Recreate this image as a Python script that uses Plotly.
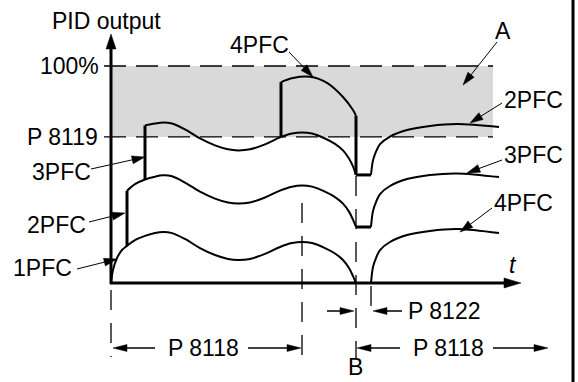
import plotly.graph_objects as go

# PID output (%) over time (t in drawing units), for 1..4 running pumps
t_1pfc = [0, 2, 6, 11, 16, 24, 34, 44, 52, 61, 74, 89, 104, 117, 127, 139, 154, 169, 181, 191, 201, 214, 224, 232, 238, 242, 245]
out_1pfc = [0, 6.0, 11.5, 15.2, 17.1, 19.8, 21.7, 23.0, 23.5, 23.0, 20.3, 16.1, 12.9, 11.1, 10.6, 11.1, 13.4, 16.6, 18.4, 18.9, 18.4, 16.1, 13.6, 10.6, 6.9, 3.2, 0]

t_2pfc = [16, 24, 34, 44, 52, 61, 74, 89, 104, 117, 127, 139, 154, 169, 181, 191, 201, 214, 224, 232, 238, 242, 245]
out_2pfc = [42.5, 45.6, 47.7, 49.0, 49.6, 49.2, 46.3, 42.1, 38.9, 37.1, 36.6, 37.1, 39.4, 42.6, 44.4, 44.9, 44.4, 42.1, 39.6, 36.6, 32.9, 29.2, 25.8]

t_3pfc = [34, 44, 52, 61, 74, 89, 104, 117, 127, 139, 154, 169, 181, 191, 201, 214, 224, 232, 238, 242, 245]
out_3pfc = [72.6, 73.5, 74.0, 73.5, 70.8, 66.6, 63.4, 61.6, 61.1, 61.6, 63.9, 67.1, 68.9, 69.4, 68.9, 66.6, 64.1, 61.1, 57.4, 53.7, 49.8]

t_4pfc = [170, 182, 199, 216, 232, 242, 245]
out_4pfc = [92.6, 94.5, 95.0, 92.2, 85.7, 79.7, 77.0]

# after the stop (B) and the restart delay P 8122
t_after = [260, 262, 265, 269, 279, 296, 319, 346, 388]
out_after_1 = [0, 7.4, 11.5, 15.2, 18.9, 22.1, 24.0, 24.9, 23.0]
out_after_2 = [25.8, 33.2, 37.3, 41.0, 44.7, 47.9, 49.8, 50.5, 48.8]
out_after_3 = [49.8, 56.5, 60.5, 64.0, 67.5, 70.5, 72.4, 73.3, 71.9]

# pump switch-on steps: time, output before, output after
step_t = [16, 34, 170]
step_from = [17.1, 47.7, 67.3]
step_to = [42.5, 72.6, 92.6]

# stop of pump 4 at B, then hold for P 8122
stop_t = [245, 260]
stop_levels = [49.8, 25.8]
stop_from = 77.0

full = 100
p8119 = 67.3
p8118_end = 191

# drawing geometry (pixels)
W, H = 578, 382
X0, Y0 = 111, 283
KY = 2.17


def px(x):
    return x - X0


def py(y):
    return (Y0 - y) / KY


fig = go.Figure()

curves = [(t_1pfc, out_1pfc), (t_2pfc, out_2pfc), (t_3pfc, out_3pfc), (t_4pfc, out_4pfc),
          (t_after, out_after_1), (t_after, out_after_2), (t_after, out_after_3)]
for t, v in curves:
    fig.add_trace(go.Scatter(x=t, y=v, mode='lines', line=dict(color='black', width=2, shape='spline', smoothing=1),
                             hoverinfo='skip', showlegend=False))

for t, a, b in zip(step_t, step_from, step_to):
    fig.add_trace(go.Scatter(x=[t, t], y=[a, b], mode='lines', line=dict(color='black', width=3),
                             hoverinfo='skip', showlegend=False))

fig.add_trace(go.Scatter(x=[stop_t[0], stop_t[0]], y=[stop_from, stop_levels[0]], mode='lines',
                         line=dict(color='black', width=3), hoverinfo='skip', showlegend=False))
for lvl in stop_levels:
    fig.add_trace(go.Scatter(x=stop_t, y=[lvl, lvl], mode='lines', line=dict(color='black', width=3),
                             hoverinfo='skip', showlegend=False))

shapes = []
annotations = []
FONT = 'Liberation Sans, Arial, Helvetica, sans-serif'


def arrow(x0, y0, x1, y1, w=1.0, hl=13, hw=4):
    # tail (x0, y0) -> tip (x1, y1), pixel coords
    dx, dy = x1 - x0, y1 - y0
    n = (dx * dx + dy * dy) ** 0.5
    ux, uy = dx / n, dy / n
    bx, by = x1 - ux * hl, y1 - uy * hl
    shapes.append(dict(type='line', x0=px(x0), y0=py(y0), x1=px(bx + ux * 2), y1=py(by + uy * 2),
                       line=dict(color='black', width=w)))
    pts = [(x1, y1), (bx - uy * hw, by + ux * hw), (bx + uy * hw, by - ux * hw)]
    path = 'M ' + ' L '.join(f'{px(a):.2f},{py(b):.2f}' for a, b in pts) + ' Z'
    shapes.append(dict(type='path', path=path, fillcolor='black', line=dict(color='black', width=0.5)))


def vdash(x, ytop, ybot):
    shapes.append(dict(type='line', x0=px(x), x1=px(x), y0=py(ytop), y1=py(ybot),
                       line=dict(color='black', width=1.3, dash='20px,13px')))


def label(x, y, s, size=23, anchor='center', italic=False):
    annotations.append(dict(x=px(x), y=py(y), xref='x', yref='y', text=s, showarrow=False,
                            xanchor=anchor, yanchor='middle',
                            font=dict(family=FONT, size=size, color='black',
                                      style='italic' if italic else 'normal')))


# grey band between P 8119 and 100 %
shapes.append(dict(type='rect', x0=0, x1=px(493), y0=p8119, y1=full, fillcolor='#d9d9d9',
                   line=dict(width=0), layer='below'))
for lvl in [full, p8119]:
    shapes.append(dict(type='line', x0=px(104), x1=px(493), y0=lvl, y1=lvl,
                       line=dict(color='black', width=1.3, dash='22px,10px')))

# axes
arrow(111, 284, 111, 34, w=3, hl=15, hw=5)
arrow(110, 283, 521, 283, w=3, hl=17, hw=5)

# time marks
vdash(111, 290, 357)
vdash(X0 + p8118_end, 203, 355)
vdash(X0 + stop_t[0], 176, 358)
vdash(X0 + stop_t[1], 286, 318)

# dimension arrows
arrow(155, 348, 113, 348, w=1.5, hl=14, hw=3.5)
arrow(248, 348, 301, 348, w=1.5, hl=14, hw=3.5)
arrow(400, 348, 357, 348, w=1.5, hl=14, hw=3.5)
arrow(493, 348, 548, 348, w=1.5, hl=14, hw=3.5)
arrow(327, 311, 354, 311, w=1.5, hl=14, hw=3.5)
arrow(402, 311, 373, 311, w=1.5, hl=14, hw=3.5)

# label arrows
arrow(91, 169, 145, 157)
arrow(89, 222, 125, 213)
arrow(77, 269, 117, 259)
arrow(289, 52, 313, 77)
arrow(497, 42, 463, 85)
arrow(502, 103, 470, 123)
arrow(502, 160, 467, 173)
arrow(492, 208, 460, 232)

# right frame
shapes.append(dict(type='line', x0=px(573), x1=px(573), y0=py(0), y1=py(H),
                   line=dict(color='black', width=3)))

label(106, 21, 'PID output')
label(101, 66, '100%', anchor='right')
label(100, 137, 'P 8119', anchor='right')
label(61, 172, '3PFC')
label(56, 225, '2PFC')
label(42, 268, '1PFC')
label(259, 45, '4PFC')
label(503, 31, 'A')
label(533, 100, '2PFC')
label(533, 155, '3PFC')
label(523, 203, '4PFC')
label(513, 265, 't', italic=True)
label(444, 311, 'P 8122')
label(203, 348, 'P 8118')
label(448, 348, 'P 8118')
label(355, 367, 'B')

fig.update_layout(
    width=W, height=H, autosize=False,
    margin=dict(l=0, r=0, t=0, b=0),
    paper_bgcolor='white', plot_bgcolor='white',
    shapes=shapes, annotations=annotations,
    xaxis=dict(range=[px(0), px(W)], visible=False, fixedrange=True),
    yaxis=dict(range=[py(H), py(0)], visible=False, fixedrange=True),
)

fig.write_html('out.html', config={'displayModeBar': False},
               post_script="document.body.style.margin='0';")
